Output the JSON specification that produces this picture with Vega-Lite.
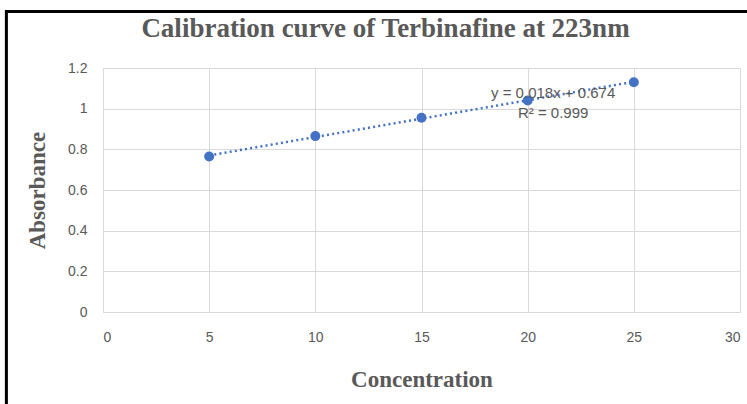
{
  "$schema": "https://vega.github.io/schema/vega-lite/v6.json",
  "width": 637,
  "height": 244,
  "autosize": "none",
  "padding": {"left": 103, "top": 68, "right": 7, "bottom": 92},
  "background": "white",
  "title": {
    "text": "Calibration curve of Terbinafine at 223nm",
    "font": "Liberation Serif",
    "fontSize": 27,
    "fontWeight": "bold",
    "color": "#595959",
    "dx": -36,
    "offset": -33
  },
  "data": {
    "values": [
      {"concentration": 5, "absorbance": 0.765},
      {"concentration": 10, "absorbance": 0.865},
      {"concentration": 15, "absorbance": 0.955},
      {"concentration": 20, "absorbance": 1.04},
      {"concentration": 25, "absorbance": 1.13}
    ]
  },
  "config": {
    "view": {"stroke": null},
    "axis": {
      "grid": true,
      "gridColor": "#d9d9d9",
      "gridWidth": 1,
      "domainColor": "#bfbfbf",
      "ticks": false,
      "tickSize": 0,
      "labelFont": "Liberation Sans",
      "labelFontSize": 14,
      "labelColor": "#595959",
      "titleFont": "Liberation Serif",
      "titleFontSize": 23,
      "titleFontWeight": "bold",
      "titleColor": "#595959"
    }
  },
  "layer": [
    {
      "data": {"values": [{}]},
      "mark": {"type": "rect", "fill": "transparent", "stroke": "black", "strokeWidth": 3, "clip": false},
      "encoding": {
        "x": {"datum": -4.55, "type": "quantitative"},
        "x2": {"datum": 40},
        "y": {"datum": 1.478, "type": "quantitative"},
        "y2": {"datum": -1}
      }
    },
    {
      "transform": [{"regression": "absorbance", "on": "concentration"}],
      "mark": {"type": "line", "color": "#4472C4", "strokeWidth": 2.5, "strokeDash": [2, 3.2]},
      "encoding": {
        "x": {"field": "concentration", "type": "quantitative"},
        "y": {"field": "absorbance", "type": "quantitative"}
      }
    },
    {
      "mark": {"type": "circle", "color": "#4472C4", "opacity": 1, "size": 100},
      "encoding": {
        "x": {
          "field": "concentration",
          "type": "quantitative",
          "scale": {"domain": [0, 30], "nice": false, "zero": false},
          "axis": {"values": [0, 5, 10, 15, 20, 25, 30], "grid": true, "labelPadding": 18, "title": "Concentration", "titlePadding": 24, "domainColor": "#d9d9d9"}
        },
        "y": {
          "field": "absorbance",
          "type": "quantitative",
          "scale": {"domain": [0, 1.2], "nice": false, "zero": false},
          "axis": {"values": [0, 0.2, 0.4, 0.6, 0.8, 1, 1.2], "grid": true, "format": "~g", "labelPadding": 16, "title": "Absorbance", "titlePadding": 18, "domainColor": "#d9d9d9"}
        }
      }
    },
    {
      "data": {"values": [{}]},
      "mark": {"type": "text", "text": "y = 0.018x + 0.674", "font": "Liberation Sans", "fontSize": 15, "color": "#595959", "align": "center", "baseline": "middle"},
      "encoding": {
        "x": {"datum": 21.2, "type": "quantitative"},
        "y": {"datum": 1.077, "type": "quantitative"}
      }
    },
    {
      "data": {"values": [{}]},
      "mark": {"type": "text", "text": "R² = 0.999", "font": "Liberation Sans", "fontSize": 15, "color": "#595959", "align": "center", "baseline": "middle"},
      "encoding": {
        "x": {"datum": 21.2, "type": "quantitative"},
        "y": {"datum": 0.979, "type": "quantitative"}
      }
    }
  ]
}
